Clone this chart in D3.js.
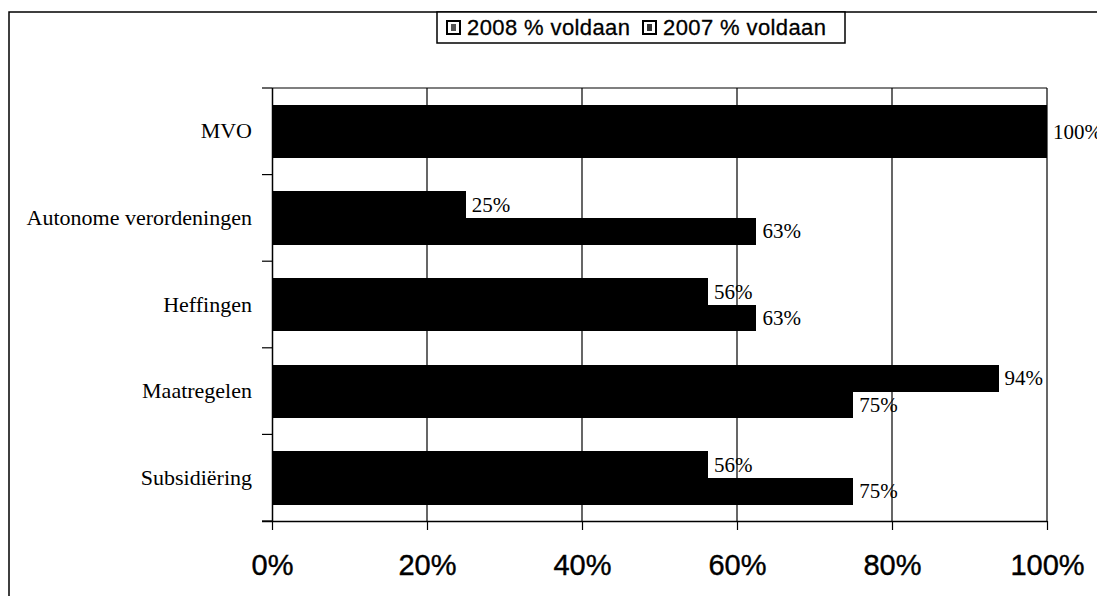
<!DOCTYPE html>
<html>
<head>
<meta charset="utf-8">
<script src="https://cdn.jsdelivr.net/npm/d3@7"></script>
<style>
  body { margin: 0; background: #fff; }
  svg { display: block; }
</style>
</head>
<body>
<script>
// data
const categories = ['MVO', 'Autonome verordeningen', 'Heffingen', 'Maatregelen', 'Subsidiëring'];
const seriesNames = ['2008 % voldaan', '2007 % voldaan'];
const values2008 = [100, 25, 56.25, 93.75, 56.25];
const values2007 = [100, 62.5, 62.5, 75, 75];
const xTicks = [0, 20, 40, 60, 80, 100];

const w = 1097;
const h = 596;

const margin = { top: 88, right: 50, bottom: 75, left: 272 };
const innerWidth = w - margin.left - margin.right;
const innerHeight = h - margin.top - margin.bottom;

const svg = d3.select('body')
    .append('svg')
    .attr('width', w)
    .attr('height', h);

// outer frame (only top and left visible in the scan)
svg.append('path')
    .attr('d', `M9,${h} L9,12 L${w},12`)
    .attr('fill', 'none')
    .attr('stroke', '#000')
    .attr('stroke-width', 1.5);

const g = svg.append('g')
    .attr('transform', `translate(${margin.left},${margin.top})`);

const xScale = d3.scaleLinear()
    .domain([0, 100])
    .range([0, innerWidth]);

const yScale = d3.scaleBand()
    .domain(categories)
    .range([0, innerHeight])
    .paddingInner(0.39)
    .paddingOuter(0.195);

const ySub = d3.scaleBand()
    .domain(seriesNames)
    .range([0, yScale.bandwidth()]);

// gridlines
g.append('g')
    .selectAll('line')
    .data(xTicks.filter(d => d > 0))
    .enter()
    .append('line')
    .attr('x1', d => xScale(d))
    .attr('x2', d => xScale(d))
    .attr('y1', 0)
    .attr('y2', innerHeight)
    .attr('stroke', '#000')
    .attr('stroke-width', 1.2);

// top border of plot
g.append('line')
    .attr('x1', 0)
    .attr('x2', innerWidth)
    .attr('y1', 0)
    .attr('y2', 0)
    .attr('stroke', '#000')
    .attr('stroke-width', 1.2);

const rows = categories.map((c, i) => ({
    cat: c,
    vals: [
        { s: seriesNames[0], v: values2008[i] },
        { s: seriesNames[1], v: values2007[i] }
    ]
}));

const groups = g.selectAll('.grp')
    .data(rows)
    .enter()
    .append('g')
    .attr('class', 'grp')
    .attr('transform', d => `translate(0,${yScale(d.cat)})`);

groups.selectAll('rect')
    .data(d => d.vals)
    .enter()
    .append('rect')
    .attr('x', 0)
    .attr('y', d => ySub(d.s))
    .attr('width', d => xScale(d.v))
    .attr('height', ySub.bandwidth() + 0.5)
    .attr('fill', '#000')
    .attr('shape-rendering', 'crispEdges');

// value labels; a single label when both years are equal
groups.each(function (d) {
    const grp = d3.select(this);
    const same = d.vals[0].v === d.vals[1].v;
    const items = same ? [{ v: d.vals[0].v, y: yScale.bandwidth() / 2 }]
        : d.vals.map(e => ({ v: e.v, y: ySub(e.s) + ySub.bandwidth() / 2 }));
    grp.selectAll('text')
        .data(items)
        .enter()
        .append('text')
        .attr('x', e => xScale(e.v) + 6)
        .attr('y', e => e.y)
        .attr('dy', '0.35em')
        .attr('font-family', '"Liberation Serif", "Times New Roman", serif')
        .attr('font-size', 21)
        .attr('fill', '#000')
        .text(e => Math.round(e.v) + '%');
});

// x axis
const xAxis = d3.axisBottom(xScale)
    .tickValues(xTicks)
    .tickFormat(d => d + '%')
    .tickSize(9)
    .tickSizeOuter(0)
    .tickPadding(24);

const xAxisG = g.append('g')
    .attr('transform', `translate(0,${innerHeight})`)
    .call(xAxis);

xAxisG.select('.domain')
    .attr('d', `M-10,0.5H${innerWidth}`)
    .attr('stroke', '#000')
    .attr('stroke-width', 1.5);
xAxisG.selectAll('.tick line').attr('stroke-width', 1.2);
xAxisG.selectAll('text')
    .attr('font-family', '"Liberation Sans", Arial, sans-serif')
    .attr('font-size', 29)
    .attr('fill', '#000')
    .attr('stroke', '#000')
    .attr('stroke-width', 0.4);

// y axis labels
const yAxis = d3.axisLeft(yScale)
    .tickSize(0)
    .tickPadding(20);

const yAxisG = g.append('g').call(yAxis);
yAxisG.select('.domain')
    .attr('d', `M0.5,0V${innerHeight}`)
    .attr('stroke', '#000')
    .attr('stroke-width', 1.5);
yAxisG.selectAll('text')
    .attr('font-family', '"Liberation Serif", "Times New Roman", serif')
    .attr('font-size', 22)
    .attr('fill', '#000');

// category boundary ticks
yAxisG.selectAll('.bnd')
    .data(d3.range(categories.length + 1))
    .enter()
    .append('line')
    .attr('class', 'bnd')
    .attr('x1', -10)
    .attr('x2', 0)
    .attr('y1', i => i * yScale.step())
    .attr('y2', i => i * yScale.step())
    .attr('stroke', '#000')
    .attr('stroke-width', 1.2);

// legend
const legend = svg.append('g')
    .attr('transform', 'translate(437,12)');

legend.append('rect')
    .attr('width', 408)
    .attr('height', 31)
    .attr('fill', '#fff')
    .attr('stroke', '#000')
    .attr('stroke-width', 1.5);

const legendX = [10, 206];
seriesNames.forEach((name, i) => {
    const item = legend.append('g')
        .attr('transform', `translate(${legendX[i]},9)`);
    item.append('rect')
        .attr('width', 13)
        .attr('height', 13)
        .attr('fill', '#fff')
        .attr('stroke', '#000')
        .attr('stroke-width', 2);
    item.append('rect')
        .attr('x', 4)
        .attr('y', 3)
        .attr('width', 5)
        .attr('height', 7)
        .attr('fill', i === 0 ? '#555' : '#333');
    item.append('text')
        .attr('x', 20)
        .attr('y', 14)
        .attr('font-family', '"Liberation Sans", Arial, sans-serif')
        .attr('font-size', 22)
        .attr('letter-spacing', 0.4)
        .attr('fill', '#000')
        .attr('stroke', '#000')
        .attr('stroke-width', 0.3)
        .text(name);
});
</script>
</body>
</html>
